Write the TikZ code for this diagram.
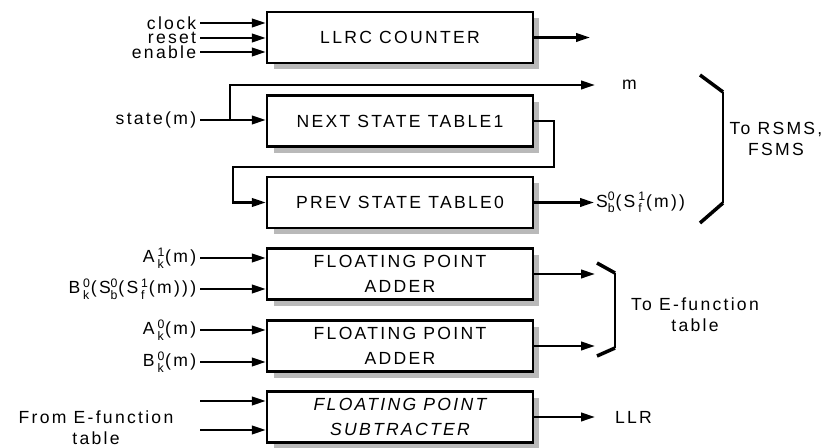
\documentclass[tikz,border=0pt]{standalone}
\usepackage{amsmath}
\usepackage{fontspec}
\setmainfont{Liberation Sans}[LetterSpace=13]
\usepackage{tikz}
\usetikzlibrary{arrows.meta, positioning, shadows}

\newcommand{\ixs}[2]{\ensuremath{^{\text{#1}}_{\text{#2}}}}

\begin{document}
\begin{tikzpicture}[x=0.02cm, y=-0.02cm,
        >={Triangle[length=2.8mm, width=1.7mm]},
        blk/.style={draw, line width=1.4pt, fill=white, align=center,
                    minimum width=5.32cm, minimum height=1.02cm, inner sep=0pt,
                    drop shadow={shadow xshift=0.13cm, shadow yshift=-0.13cm,
                                 fill=gray!55, opacity=1}},
        arr/.style={->, line width=1.3pt},
        lbl/.style={inner xsep=2pt, inner ysep=0pt, anchor=east},
        outl/.style={inner xsep=1pt, inner ysep=0pt, anchor=west},
        brk/.style={line width=2pt},
    ]
    \useasboundingbox (0,0) rectangle (829,448);

    % ---- Blocks ----
    \node[blk] (cnt)  at (400,37.5)  {LLRC COUNTER};
    \node[blk] (nst)  at (400,121)   {NEXT STATE TABLE1};
    \node[blk] (pst)  at (400,202.5) {PREV STATE TABLE0};
    \node[blk] (add1) at (400,274)   {FLOATING POINT\\[2pt]ADDER};
    \node[blk] (add2) at (400,346)   {FLOATING POINT\\[2pt]ADDER};
    \node[blk, font=\itshape] (sub) at (400,417) {FLOATING POINT\\[2pt]SUBTRACTER};

    % ---- Counter inputs and output ----
    \node[lbl] (clk) at (200,23) {clock};
    \node[lbl] (rst) at (200,38) {reset};
    \node[lbl] (ena) at (200,52) {enable};
    \draw[arr] (clk.east) -- (clk -| cnt.west);
    \draw[arr] (rst.east) -- (rst -| cnt.west);
    \draw[arr] (ena.east) -- (ena -| cnt.west);
    \coordinate (cout) at (590,37.5);
    \draw[arr] (cnt.east) -- (cout);

    % ---- State tables ----
    \node[lbl] (st) at (200,120) {state(m)};
    \draw[arr] (st.east) -- (st -| nst.west);
    \coordinate (br) at (230,120);
    \coordinate (mend) at (595,85);
    \node[outl] (mo) at (620,85) {m};
    \draw[arr] (br) |- (mend);
    \coordinate (fb) at (233,167);
    \draw[arr] (nst.east) -- ++(20,0) |- (fb) |- (pst.west);
    \node[outl] (so) at (594,202.5) {S\ixs{0}{b}(S\,\ixs{1}{f}(m))};
    \draw[arr] (pst.east) -- (pst.east -| so.west);

    % ---- Bracket: to RSMS, FSMS ----
    \draw[brk] (700,75) -- (723,92);
    \draw[line width=0.8pt] (723,92) -- (723,203);
    \draw[brk] (723,203) -- (700,223);
    \node[align=center] (rs) at (776,139) {To RSMS,\\FSMS};

    % ---- Adder inputs ----
    \node[lbl] (a1) at (200,258) {A\,\ixs{1}{k}(m)};
    \node[lbl] (b1) at (200,289) {B\,\ixs{0}{k}(S\ixs{0}{b}(S\,\ixs{1}{f}(m)))};
    \node[lbl] (a0) at (200,330) {A\,\ixs{0}{k}(m)};
    \node[lbl] (b0) at (200,362) {B\,\ixs{0}{k}(m)};
    \draw[arr] (a1.east) -- (a1 -| add1.west);
    \draw[arr] (b1.east) -- (b1 -| add1.west);
    \draw[arr] (a0.east) -- (a0 -| add2.west);
    \draw[arr] (b0.east) -- (b0 -| add2.west);

    % ---- Adder outputs, bracket: to E-function table ----
    \coordinate (ebr) at (595,0);
    \draw[arr] (add1.east) -- (add1.east -| ebr);
    \draw[arr] (add2.east) -- (add2.east -| ebr);
    \draw[brk] (597,263) -- (615,273);
    \draw[line width=0.8pt] (615,273) -- (615,348);
    \draw[brk] (615,348) -- (597,356);
    \node[align=center] (ef) at (695,315) {To E-function\\table};

    % ---- Subtracter ----
    \node[align=center] (fe) at (96,428) {From E-function\\table};
    \coordinate (s1) at (200,401);
    \coordinate (s2) at (200,430);
    \draw[arr] (s1) -- (s1 -| sub.west);
    \draw[arr] (s2) -- (s2 -| sub.west);
    \draw[arr] (sub.east) -- (sub.east -| ebr);
    \node[outl] (llr) at (613,417) {LLR};

\end{tikzpicture}
\end{document}
